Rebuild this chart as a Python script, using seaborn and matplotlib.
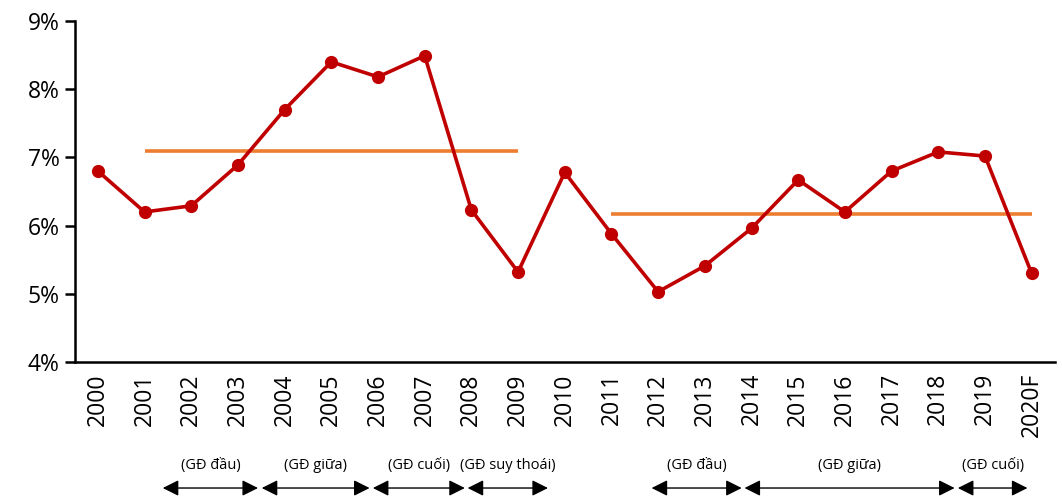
import matplotlib
matplotlib.use("Agg")
import matplotlib.pyplot as plt
import matplotlib.transforms as mtransforms
import seaborn as sns
import pandas as pd

# GDP growth by year (%)
years = ["2000", "2001", "2002", "2003", "2004", "2005", "2006", "2007", "2008", "2009",
         "2010", "2011", "2012", "2013", "2014", "2015", "2016", "2017", "2018", "2019", "2020F"]
growth = [6.80, 6.20, 6.29, 6.89, 7.70, 8.40, 8.18, 8.49, 6.23, 5.32,
          6.78, 5.88, 5.03, 5.41, 5.96, 6.67, 6.20, 6.80, 7.08, 7.02, 5.30]

# Period averages and the years they span
avg_levels = [7.10, 6.17]
avg_spans = [("2001", "2009"), ("2011", "2020F")]

# Cycle phases (label, start, end) in category positions
phase_labels = ["(GĐ đầu)", "(GĐ giữa)", "(GĐ cuối)", "(GĐ suy thoái)",
                "(GĐ đầu)", "(GĐ giữa)", "(GĐ cuối)"]
phase_starts = [1.39, 3.51, 5.89, 7.92, 11.86, 13.85, 18.42]
phase_ends = [3.43, 5.82, 7.86, 9.64, 13.79, 18.35, 19.91]

y_ticks = [4, 5, 6, 7, 8, 9]

sns.set_style("white")
plt.rcParams["font.family"] = ["Open Sans", "DejaVu Sans"]

df = pd.DataFrame({"pos": range(len(years)), "year": years, "growth": growth})

fig = plt.figure(figsize=(10.62, 4.99), dpi=100)
ax = fig.add_axes([0.0706, 0.2745, 0.9228, 0.6835])

for level, (a, b) in zip(avg_levels, avg_spans):
    ax.plot([years.index(a), years.index(b)], [level, level],
            color="#ED7D31", lw=2.6, solid_capstyle="butt", zorder=2)

sns.lineplot(data=df, x="pos", y="growth", ax=ax, color="#C00000", lw=2.6,
             marker="o", markersize=9.5, markeredgewidth=0, zorder=3)

ax.set_xlim(-0.49, 20.5)
ax.set_ylim(4, 9)
ax.set_yticks(y_ticks)
ax.set_yticklabels([f"{t}%" for t in y_ticks], fontsize=16.5)
ax.set_xticks(range(len(years)))
ax.set_xticklabels(years, rotation=90, fontsize=16.5)
ax.set_xlabel("")
ax.set_ylabel("")

for side in ["top", "right"]:
    ax.spines[side].set_visible(False)
for side in ["left", "bottom"]:
    ax.spines[side].set_color("black")
    ax.spines[side].set_linewidth(1.8)
ax.tick_params(axis="y", direction="out", length=7, width=1.8, color="black",
               left=True, pad=4, labelcolor="black")
ax.tick_params(axis="x", length=0, pad=8, labelcolor="black")

trans = mtransforms.blended_transform_factory(ax.transData, fig.transFigure)
for label, s, e in zip(phase_labels, phase_starts, phase_ends):
    ax.annotate("", xy=(e, 0.022), xytext=(s, 0.022), xycoords=trans, textcoords=trans,
                arrowprops=dict(arrowstyle="<|-|>", color="black", lw=1.0,
                                mutation_scale=24, shrinkA=0, shrinkB=0),
                annotation_clip=False)
    ax.text((s + e) / 2, 0.068, label, transform=trans, ha="center", va="center",
            fontsize=10.5, color="black")

fig.savefig("out.png", dpi=100)
